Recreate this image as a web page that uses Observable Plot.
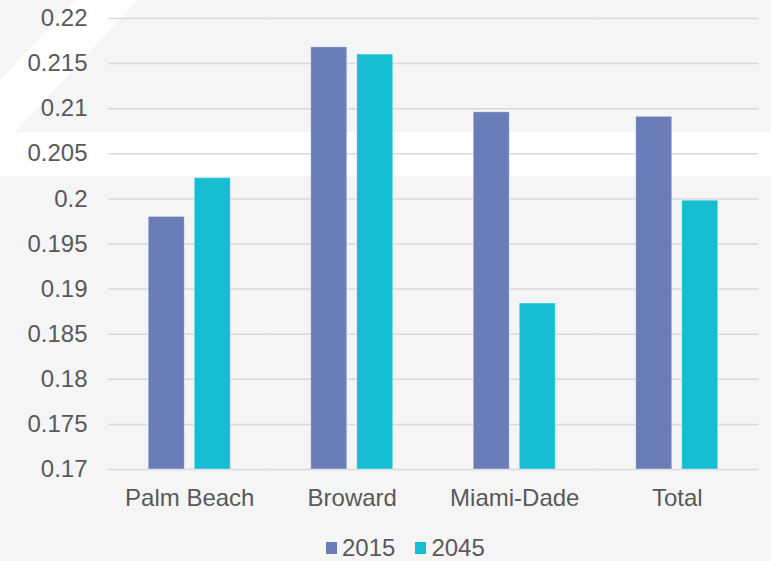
<!DOCTYPE html>
<html>
<head>
<meta charset="utf-8">
<script src="https://cdn.jsdelivr.net/npm/d3@7"></script>
<script src="https://cdn.jsdelivr.net/npm/@observablehq/plot@0.6"></script>
<style>
  html, body { margin: 0; padding: 0; }
  body { width: 771px; height: 561px; background: #f5f5f5; position: relative; overflow: hidden;
         font-family: "Liberation Sans", Arial, sans-serif; }
  .deco-band { position: absolute; left: 0; top: 132px; width: 771px; height: 44px; background: #ffffff; }
  .deco-stripe { position: absolute; left: 0; top: 0; width: 160px; height: 132px; background: #ffffff;
                 clip-path: polygon(75px 0, 138px 0, 15px 132px, 0 132px, 0 80px); }
  #chart { position: absolute; left: 0; top: 0; }
  #legend { position: absolute; left: 326px; top: 535px; height: 26px; display: flex;
            align-items: center; font-size: 24px; color: #595959; white-space: nowrap; }
  .sw { display: inline-block; width: 11px; height: 12px; margin-right: 5px; }
  .item { display: inline-flex; align-items: center; margin-right: 20px; }
</style>
</head>
<body>
<div class="deco-stripe"></div>
<div class="deco-band"></div>
<div id="chart"></div>
<div id="legend"></div>
<script>
const categories = ["Palm Beach", "Broward", "Miami-Dade", "Total"];
const years = ["2015", "2045"];
const values2015 = [0.1980, 0.2168, 0.2096, 0.2091];
const values2045 = [0.2023, 0.2160, 0.1884, 0.1998];
const yTicks = [0.17, 0.175, 0.18, 0.185, 0.19, 0.195, 0.2, 0.205, 0.21, 0.215, 0.22];
const yDomain = [0.17, 0.22];
const colors = ["#6b7db8", "#17bed3"];

const data = [];
categories.forEach((c, i) => {
  data.push({cat: c, year: years[0], value: values2015[i]});
  data.push({cat: c, year: years[1], value: values2045[i]});
});

const chart = Plot.plot({
  width: 771,
  height: 520,
  marginTop: 18,
  marginLeft: 108,
  marginRight: 13,
  marginBottom: 51,
  style: {background: "transparent", fontFamily: "'Liberation Sans', Arial, sans-serif", fontSize: "24px", color: "#595959", overflow: "visible"},
  fx: {domain: categories, padding: 0, round: false, label: null, axis: "bottom", tickSize: 0, tickPadding: 19},
  x: {domain: years, paddingInner: 10 / 46, paddingOuter: 0.875, round: false, axis: null},
  y: {domain: yDomain, ticks: yTicks, tickFormat: d => String(+d.toFixed(3)), tickSize: 0, tickPadding: 21, label: null},
  color: {domain: years, range: colors},
  marks: [
    Plot.gridY(yTicks, {stroke: "#d9d9d9", strokeOpacity: 1, strokeWidth: 1.5}),
    Plot.barY(data, {fx: "cat", x: "year", y1: yDomain[0], y2: "value", fill: "year",
                     stroke: "#ffffff", strokeOpacity: 0.35, strokeWidth: 1})
  ]
});
document.getElementById("chart").appendChild(chart);

const color = chart.scale("color");
const legend = document.getElementById("legend");
years.forEach((y, i) => {
  const item = document.createElement("span");
  item.className = "item";
  const sw = document.createElement("span");
  sw.className = "sw";
  sw.style.background = color.range[i];
  item.appendChild(sw);
  item.appendChild(document.createTextNode(y));
  legend.appendChild(item);
});
</script>
</body>
</html>
